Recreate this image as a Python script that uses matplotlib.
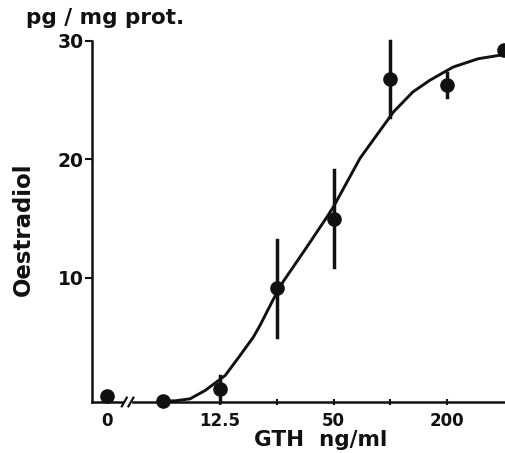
import matplotlib
matplotlib.use("Agg")
import matplotlib.pyplot as plt
from matplotlib.ticker import FixedLocator, NullFormatter

# GTH dose (ng/ml); the zero dose is drawn at 3.125, left of the axis break
dose = [3.125, 6.25, 12.5, 25, 50, 100, 200, 400]
oestradiol = [0.0, -0.4, 0.6, 9.1, 15.0, 26.8, 26.3, 29.2]
sem = [0.0, 0.0, 1.1, 4.1, 4.1, 3.2, 1.0, 0.0]

# fitted curve
curve_dose = [6.25, 7.22, 8.66, 10.4, 13.3, 15.9, 18.8, 20.4, 24.0, 27.1,
              36.1, 46.0, 50.0, 69.2, 104, 132, 163, 216, 293, 383, 412]
curve_val = [-0.4, -0.4, -0.23, 0.47, 1.74, 3.4, 5.0, 6.0, 8.2, 9.7,
             12.6, 15.1, 16.0, 20.1, 24.0, 25.7, 26.7, 27.8, 28.5, 28.8, 28.9]

xticks = [3.125, 12.5, 50, 200]
xticklabels = ["0", "12.5", "50", "200"]
xminor = [25, 100]
yticks = [10, 20, 30]

plt.rcParams['font.family'] = ['DejaVu Sans']
plt.rcParams['font.weight'] = 'bold'

W, H = 506, 453
fig = plt.figure(figsize=(W / 100, H / 100), dpi=100)
ax = fig.add_axes([92 / W, 1 - 402 / H, 414 / W, 361 / H])
ink = '#111111'

ax.plot(curve_dose, curve_val, '-', color=ink, lw=2.1, clip_on=False,
        solid_capstyle='round', solid_joinstyle='round')
for d, v, e in zip(dose, oestradiol, sem):
    if e > 0:
        ax.plot([d, d], [v - e, v + e], '-', color=ink, lw=2.5, clip_on=False)
ax.plot(dose, oestradiol, 'o', color=ink, ms=9.5, clip_on=False, zorder=5)

ax.set_xscale('log', base=2)
ax.set_xlim(2.61, 412)
ax.set_ylim(-0.5, 30)

ax.spines['top'].set_visible(False)
ax.spines['right'].set_visible(False)
for s in ['left', 'bottom']:
    ax.spines[s].set_linewidth(1.8)
    ax.spines[s].set_color(ink)

ax.set_xticks(xticks)
ax.set_xticklabels(xticklabels)
ax.xaxis.set_minor_locator(FixedLocator(xminor))
ax.xaxis.set_minor_formatter(NullFormatter())
ax.tick_params(axis='x', which='both', direction='inout', length=5, width=1.5,
               labelsize=12, pad=5, colors=ink)
ax.xaxis.get_major_ticks()[0].tick1line.set_visible(False)
ax.set_yticks(yticks)
ax.tick_params(axis='y', direction='out', length=5, width=1.5,
               labelsize=13.5, pad=1, colors=ink)

# axis break marks
ax.fill_between([0.078, 0.095], -0.01, 0.01, color='white',
                transform=ax.transAxes, clip_on=False, zorder=6)
for x0 in [0.072, 0.088]:
    ax.plot([x0, x0 + 0.012], [-0.012, 0.012], '-', color=ink, lw=1.6,
            transform=ax.transAxes, clip_on=False, zorder=7)

fig.text(321 / W, 1 - 446 / H, 'GTH  ng\u2215ml', fontsize=15.5,
         fontweight='bold', color=ink, ha='center', va='baseline')
fig.text(23 / W, 1 - 229 / H, 'Oestradiol', fontsize=16.5, fontweight='bold',
         color=ink, ha='center', va='center', rotation=90)
fig.text(26 / W, 1 - 24 / H, 'pg \u2215 mg prot.', fontsize=15.5,
         fontweight='bold', color=ink, ha='left', va='baseline')

fig.savefig('out.png', dpi=100)
